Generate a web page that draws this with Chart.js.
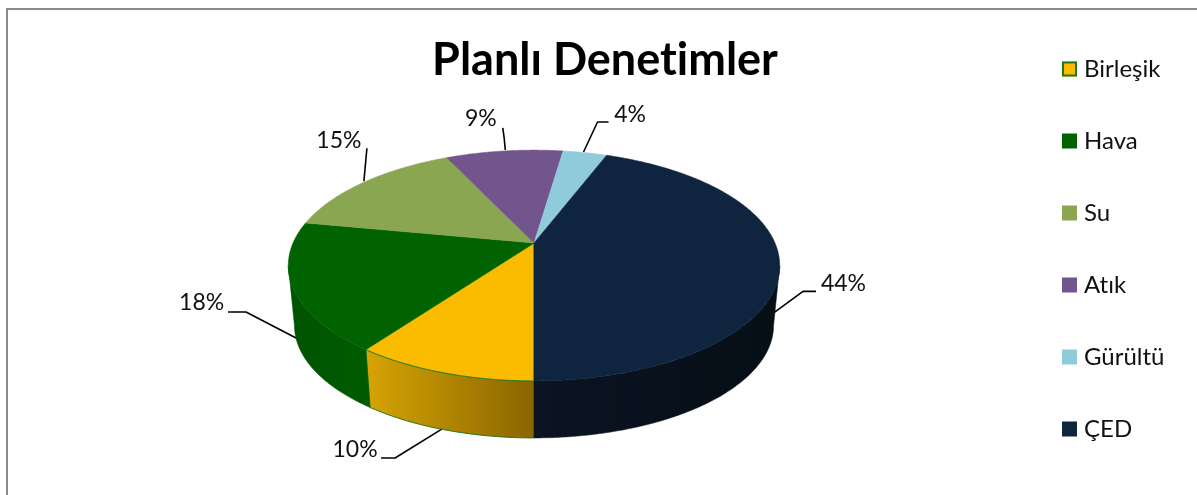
<!DOCTYPE html>
<html><head><meta charset="utf-8">
<style>html,body{margin:0;padding:0;background:#fff;overflow:hidden}canvas{display:block}</style>
<script src="https://cdn.jsdelivr.net/npm/chart.js@4"></script></head>
<body><canvas id="c" width="1197" height="495"></canvas>
<script>
const categories = ['Birleşik','Hava','Su','Atık','Gürültü','ÇED'];
const values = [10,18,15,9.3,3.5,44.2];
const valueLabels = ['10%','18%','15%','9%','4%','44%'];
const colors = ['#FBBC00','#006300','#8BA650','#72558C','#90CBDB','#0F243E'];
const edgeColors = ['#1F7A1F','#006300','#8BA650','#72558C','#90CBDB','#0F243E'];
const wallLeft = ['#D6A404','#005300','#6F853F','#5B4470','#73A2AF','#0A1422'];
const wallRight = ['#8A6500','#005C00','#6F853F','#5B4470','#73A2AF','#060E16'];

const proj = {cx:534, cy:243, A:111, B:241, k:0.195, sc:0.975, D:60.5};
function rimTop(a){const u=Math.cos(a),v=Math.sin(a),s=1/(1-proj.k*v);
  return [proj.cx+proj.B*u*s, proj.cy+proj.A*v*s];}
function rimLow(a){const p=rimTop(a);
  return [proj.cx+(p[0]-proj.cx)*proj.sc, proj.cy+(p[1]-proj.cy)*proj.sc+proj.D];}

/* leader geometry relative to the slice's rim midpoint */
const leaders = [
 {start:[0,56],elbow:[-47.5,85.4],end:[-61.5,85.4],text:[-87.5,77.4]},
 {start:[5.4,52],elbow:[-46.6,25],end:[-64.6,25],text:[-91,16]},
 {start:[0,-1],elbow:[1,-12],end:[3,-34],text:[-25,-42]},
 {start:[1,-1],elbow:[0,-12],end:[-1.5,-23],text:[-23.5,-32]},
 {start:[-1.5,-0.6],elbow:[12.5,-30.6],end:[23.5,-30.6],text:[45,-37.6]},
 {start:[-6.7,49.5],elbow:[23.3,27.5],end:[36.3,27.5],text:[63.8,19.5]}
];
const LEG = {font:24, step:72, boxLeft:1062, box:15, firstY:69};

const pie3d = {
 id:'pie3d',
 beforeDraw(chart){
  const c=chart.ctx; c.textRendering='optimizeSpeed';
  c.save(); c.fillStyle='#fff'; c.fillRect(0,0,chart.width,chart.height);
  c.strokeStyle='#8C8C8C'; c.lineWidth=2;
  c.beginPath(); c.moveTo(7,495); c.lineTo(7,9); c.lineTo(1197,9); c.stroke(); c.restore();
 },
 afterLayout(chart){
  const l=chart.legend, p=chart.options.plugins.legend.labels.padding;
  l.left=LEG.boxLeft-p; l.right=1197;
  l.top=LEG.firstY-LEG.font/2-p; l.bottom=2000;
  const t=chart.titleBlock, w=t.right-t.left;
  t.left=605-w/2; t.right=605+w/2;
  const h=t.bottom-t.top; t.top=23; t.bottom=23+h;
 },
 beforeDatasetsDraw(chart){
  const c=chart.ctx, arcs=chart.getDatasetMeta(0).data;
  c.save();
  arcs.forEach((el,i)=>{
    const m=rimTop((el.startAngle+el.endAngle)/2), L=leaders[i];
    c.strokeStyle='#000'; c.lineWidth=1.6; c.lineJoin='round';
    c.beginPath(); c.moveTo(m[0]+L.start[0],m[1]+L.start[1]);
    c.lineTo(m[0]+L.elbow[0],m[1]+L.elbow[1]);
    c.lineTo(m[0]+L.end[0],m[1]+L.end[1]); c.stroke();
    c.fillStyle='#111'; c.font='23px Lato'; c.textAlign='center'; c.textBaseline='middle';
    c.fillText(valueLabels[i],m[0]+L.text[0],m[1]+L.text[1]);
  });
  /* side walls: only the camera-facing part of each slice's rim */
  const a0=Math.asin(proj.k), a1=Math.PI-a0, tau=2*Math.PI;
  arcs.forEach((el,i)=>{
    [0,tau].forEach(off=>{
      const s=Math.max(el.startAngle,a0+off), e=Math.min(el.endAngle,a1+off);
      if(e<=s) return;
      const n=Math.ceil((e-s)/0.01), T=[],B=[];
      for(let j=0;j<=n;j++){const a=s+(e-s)*j/n;T.push(rimTop(a));B.push(rimLow(a));}
      const xs=T.concat(B).map(p=>p[0]);
      const g=c.createLinearGradient(Math.min(...xs),0,Math.max(...xs),0);
      g.addColorStop(0,wallLeft[i]); g.addColorStop(1,wallRight[i]);
      c.beginPath(); T.forEach((p,k)=>k?c.lineTo(p[0],p[1]):c.moveTo(p[0],p[1]));
      B.reverse().forEach(p=>c.lineTo(p[0],p[1])); c.closePath();
      c.fillStyle=g; c.fill();
      c.strokeStyle=i===0?edgeColors[0]:g; c.lineWidth=i===0?1:0.5; c.stroke();
    });
  });
  arcs.forEach((el,i)=>{
    const n=Math.ceil((el.endAngle-el.startAngle)/0.01);
    c.beginPath(); c.moveTo(proj.cx,proj.cy);
    for(let j=0;j<=n;j++){const p=rimTop(el.startAngle+(el.endAngle-el.startAngle)*j/n);c.lineTo(p[0],p[1]);}
    c.closePath(); c.fillStyle=el.options.backgroundColor; c.fill();
    c.strokeStyle=i===0?edgeColors[0]:el.options.backgroundColor; c.lineWidth=i===0?0.8:0.5; c.stroke();
  });
  c.restore();
  return false;
 },
 afterDraw(chart){
  const c=chart.ctx; c.save();
  chart.legend.legendItems.forEach((it,i)=>{
    const y=LEG.firstY+LEG.step*i-LEG.box/2;
    c.fillStyle=it.fillStyle; c.fillRect(LEG.boxLeft,y,LEG.box,LEG.box);
    if(i===0){c.strokeStyle=edgeColors[0]; c.lineWidth=2; c.strokeRect(LEG.boxLeft+1,y+1,LEG.box-2,LEG.box-2);}
  });
  c.restore();
 }
};

new Chart(document.getElementById('c'),{
 type:'pie',
 data:{labels:categories,datasets:[{data:values,backgroundColor:colors,borderColor:edgeColors,borderWidth:0}]},
 options:{
  responsive:false,animation:false,rotation:180,
  layout:{padding:0},
  plugins:{
   tooltip:{enabled:false},
   title:{display:true,text:'Planlı Denetimler',color:'#000',font:{family:'Lato',size:45,weight:'bold'},padding:{top:10,bottom:0}},
   legend:{position:'right',align:'start',
    labels:{boxWidth:10,boxHeight:14,padding:48,color:'#111',font:{family:'Lato',size:LEG.font}}}
  }
 },
 plugins:[pie3d]
});
</script></body></html>
